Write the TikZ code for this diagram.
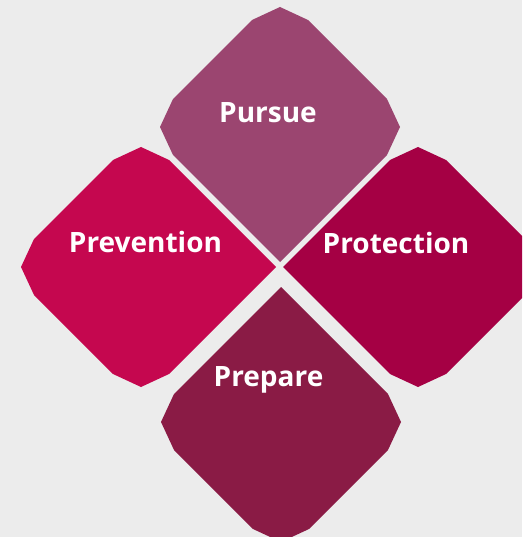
\documentclass[tikz,border=0pt]{standalone}
\usepackage{fontspec}
\setmainfont{Open Sans}
\definecolor{bggray}{HTML}{ECECEC}
\definecolor{pursuemauve}{HTML}{9B4570}
\definecolor{preventred}{HTML}{C5074F}
\definecolor{protectred}{HTML}{A50044}
\definecolor{preparewine}{HTML}{8A1B45}

\begin{document}
\begin{tikzpicture}[x=1pt,y=-1pt,
    leaftext/.style={text=white, anchor=base, font=\bfseries\fontsize{28}{32}\selectfont}]
        \useasboundingbox (0,0) rectangle (522,537);
        \fill[bggray] (0,0) rectangle (522,537);
        \clip (0,0) rectangle (522,537);
        \foreach \cx/\cy/\rot/\col in {141/267/0/preventred, 280/127/-90/pursuemauve, 418/267/180/protectred, 281/422/90/preparewine}{
            \fill[\col, shift={(\cx,\cy)}, rotate=\rot] (135,0) -- (28,107) -- (0,120) -- (-28,107) -- (-107,28) -- (-120,0) -- (-107,-28) -- (-28,-107) -- (0,-120) -- (28,-107) -- cycle;
        }
        \node[leaftext] (pursue) at (268,123) {Pursue};
        \node[leaftext] (prevention) at (145.5,252) {Prevention};
        \node[leaftext] (protection) at (396,253) {Protection};
        \node[leaftext] (prepare) at (268.5,386) {Prepare};
    \end{tikzpicture}
\end{document}
